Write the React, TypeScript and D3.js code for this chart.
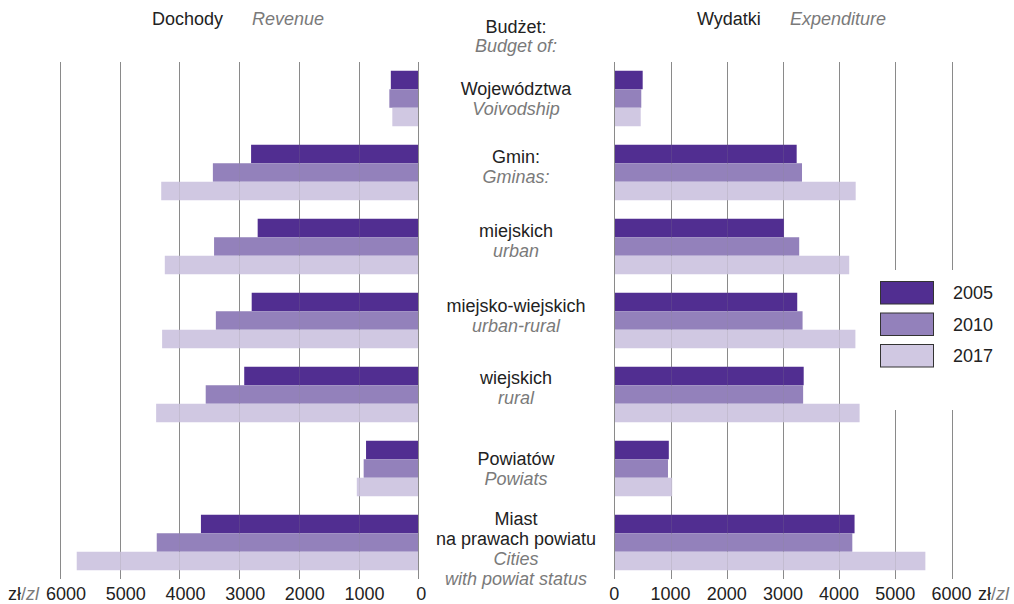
import React from "react";
import * as d3 from "d3";

const categories = ["woj", "gmin", "miejskich", "miejsko-wiejskich", "wiejskich", "powiatow", "miast"];
const labelsPL: string[][] = [["Województwa"], ["Gmin:"], ["miejskich"], ["miejsko-wiejskich"], ["wiejskich"], ["Powiatów"], ["Miast", "na prawach powiatu"]];
const labelsEN: string[][] = [["Voivodship"], ["Gminas:"], ["urban"], ["urban-rural"], ["rural"], ["Powiats"], ["Cities", "with powiat status"]];
const years = ["2005", "2010", "2017"];

const revenue2005 = [460, 2800, 2690, 2790, 2915, 875, 3640];
const revenue2010 = [485, 3440, 3420, 3390, 3560, 915, 4380];
const revenue2017 = [435, 4305, 4245, 4290, 4390, 1030, 5720];

const expenditure2005 = [505, 3245, 3020, 3255, 3370, 970, 4275];
const expenditure2010 = [480, 3340, 3290, 3350, 3360, 955, 4235];
const expenditure2017 = [470, 4295, 4180, 4290, 4365, 1030, 5535];

const ticks = [0, 1000, 2000, 3000, 4000, 5000, 6000];

const colors = ["#512e91", "#9381bb", "#d0c8e2"];
const labelShift = [0, -6, -6, -5, -7, 0, 6];

export default function App() {
  const W = 1014, H = 604;
  const font = "'Liberation Sans', Arial, Helvetica, sans-serif";
  const fs = 18;
  const black = "#222";
  const gray = "#7a7a7a";

  const xL = d3.scaleLinear().domain([0, 6000]).range([418.3, 60]);
  const xR = d3.scaleLinear().domain([0, 6000]).range([614.3, 951.5]);
  const y = d3.scaleBand().domain(categories).range([61.5, 579.5]).paddingInner(0.25).paddingOuter(0.125);
  const sub = d3.scaleBand().domain(years).range([0, y.bandwidth()]);

  const rev = [revenue2005, revenue2010, revenue2017];
  const exp = [expenditure2005, expenditure2010, expenditure2017];

  const gridTop = 62, gridBottom = 579;
  const px = (v: number) => Math.round(v) + 0.5;

  const gridLines = (opacity: number, keyp: string) => (
    <g>
      {ticks.map((t) => (
        <line key={keyp + "L" + t} x1={px(xL(t))} x2={px(xL(t))} y1={gridTop} y2={gridBottom} stroke="#8a8a8a" strokeWidth={1} opacity={opacity} />
      ))}
      {ticks.map((t) => (
        <line key={keyp + "R" + t} x1={px(xR(t))} x2={px(xR(t))} y1={gridTop} y2={gridBottom} stroke="#8a8a8a" strokeWidth={1} opacity={opacity} />
      ))}
    </g>
  );

  return (
    <svg width={W} height={H} style={{ position: "absolute", left: 0, top: 0, background: "#fff" }} fontFamily={font}>
      <rect x={0} y={0} width={W} height={H} fill="#fff" />
      {gridLines(1, "a")}
      {/* bars */}
      {categories.map((c, i) => (
        <g key={c}>
          {years.map((yr, k) => {
            const v = rev[k][i];
            const yy = (y(c) as number) + (sub(yr) as number);
            return <rect key={"r" + yr} x={xL(v)} y={yy} width={xL(0) - xL(v)} height={sub.bandwidth()} fill={colors[k]} />;
          })}
          {years.map((yr, k) => {
            const v = exp[k][i];
            const yy = (y(c) as number) + (sub(yr) as number);
            return <rect key={"e" + yr} x={xR(0)} y={yy} width={xR(v) - xR(0)} height={sub.bandwidth()} fill={colors[k]} />;
          })}
        </g>
      ))}
      {gridLines(0.18, "b")}
      {/* zero lines */}
      <line x1={px(xL(0))} x2={px(xL(0))} y1={gridTop} y2={gridBottom} stroke="#8a8a8a" />
      <line x1={px(xR(0))} x2={px(xR(0))} y1={gridTop} y2={gridBottom} stroke="#8a8a8a" />

      {/* headers */}
      <text x={152} y={25} fontSize={fs} fill={black}>Dochody</text>
      <text x={252} y={25} fontSize={fs} fill={gray} fontStyle="italic">Revenue</text>
      <text x={697} y={25} fontSize={fs} fill={black}>Wydatki</text>
      <text x={790} y={25} fontSize={fs} fill={gray} fontStyle="italic">Expenditure</text>
      <text x={516} y={33} fontSize={fs} fill={black} textAnchor="middle">Budżet:</text>
      <text x={516} y={52} fontSize={fs} fill={gray} fontStyle="italic" textAnchor="middle">Budget of:</text>

      {/* category labels */}
      {categories.map((c, i) => {
        const lines = [...labelsPL[i].map((t) => ({ t, en: false })), ...labelsEN[i].map((t) => ({ t, en: true }))];
        const lh = 20.3;
        const center = (y(c) as number) + y.bandwidth() / 2 + labelShift[i];
        const first = center - ((lines.length - 1) * lh) / 2 + 6.5;
        return (
          <g key={"lab" + c}>
            {lines.map((l, j) => (
              <text key={j} x={516} y={first + j * lh} fontSize={fs} textAnchor="middle" fill={l.en ? gray : black} fontStyle={l.en ? "italic" : "normal"}>
                {l.t}
              </text>
            ))}
          </g>
        );
      })}

      {/* axis tick labels */}
      {ticks.map((t) => (
        <text key={"tl" + t} x={xL(t) + (t === 0 ? 3 : 6)} y={600} fontSize={fs} fill={black} textAnchor="middle">{t}</text>
      ))}
      {ticks.map((t) => (
        <text key={"tr" + t} x={xR(t)} y={600} fontSize={fs} fill={black} textAnchor="middle">{t}</text>
      ))}
      <text x={8} y={600} fontSize={fs} fill={black}>
        zł<tspan fill={gray}>/</tspan><tspan fill={gray} fontStyle="italic">zl</tspan>
      </text>
      <text x={978} y={600} fontSize={fs} fill={black}>
        zł<tspan fill={gray}>/</tspan><tspan fill={gray} fontStyle="italic">zl</tspan>
      </text>

      {/* legend */}
      <rect x={868} y={270} width={146} height={140} fill="#fff" />
      {years.map((yr, k) => (
        <g key={"lg" + yr}>
          <rect x={880.5} y={281.5 + k * 31.5} width={53} height={22.5} fill={colors[k]} stroke="#333" strokeWidth={1} />
          <text x={953} y={299 + k * 31.5} fontSize={fs} fill={black}>{yr}</text>
        </g>
      ))}
    </svg>
  );
}
